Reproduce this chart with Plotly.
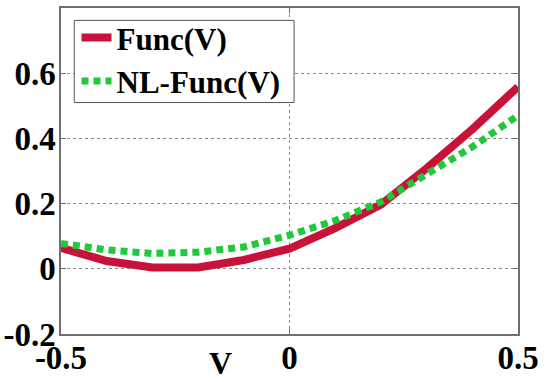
import plotly.graph_objects as go

v_values = [-0.5, -0.4, -0.3, -0.2, -0.1, 0.0, 0.1, 0.2, 0.3, 0.4, 0.5]
func_v = [0.064, 0.024, 0.004, 0.004, 0.027, 0.062, 0.125, 0.197, 0.308, 0.428, 0.558]
nl_func_v = [0.078, 0.058, 0.047, 0.051, 0.067, 0.103, 0.148, 0.205, 0.290, 0.374, 0.470]

x_ticks = [-0.5, 0, 0.5]
x_tick_labels = ["-0.5", "0", "0.5"]
y_ticks = [-0.2, 0, 0.2, 0.4, 0.6]
y_tick_labels = ["-0.2", "0", "0.2", "0.4", "0.6"]

font_family = "Liberation Serif, Times New Roman, serif"

fig = go.Figure()
fig.add_trace(go.Scatter(
    x=v_values, y=func_v, mode="lines", name="Func(V)",
    line=dict(color="#C8123A", width=8),
))
fig.add_trace(go.Scatter(
    x=v_values, y=nl_func_v, mode="lines", name="NL-Func(V)",
    line=dict(color="#20C83C", width=7, dash="7px,5px"),
))

axis_common = dict(
    showline=True, linecolor="#707070", linewidth=1.5, mirror="ticks",
    ticks="inside", ticklen=5, tickcolor="#707070",
    showgrid=True, gridcolor="#8a8a8a", gridwidth=1, griddash="dot",
    zeroline=False, automargin=False,
    tickfont=dict(family=font_family, size=33, color="black", weight="bold"),
)

fig.update_xaxes(range=[-0.5, 0.5], tickvals=x_ticks, ticktext=x_tick_labels,
                 ticklabelstandoff=-6, **axis_common)
fig.update_yaxes(range=[-0.2, 0.8], tickvals=y_ticks, ticktext=y_tick_labels,
                 ticklabelstandoff=-3, **axis_common)

fig.add_annotation(
    text="V", x=-0.152, xref="x", y=-0.088, yref="paper",
    xanchor="center", yanchor="middle", showarrow=False,
    font=dict(family=font_family, size=32, color="black", weight="bold"),
)

# legend frame
fig.add_shape(
    type="rect", xref="paper", yref="paper",
    x0=0.029, x1=0.51, y0=0.710, y1=0.962,
    line=dict(color="#555555", width=1), fillcolor="white", layer="above",
)

fig.update_layout(
    width=550, height=382,
    margin=dict(l=61, r=32, t=8, b=48, autoexpand=False),
    paper_bgcolor="white", plot_bgcolor="white",
    showlegend=True,
    legend=dict(
        x=0.034, y=0.991, xanchor="left", yanchor="top",
        bgcolor="rgba(0,0,0,0)", borderwidth=0,
        font=dict(family=font_family, size=31, color="black", weight="bold"),
        itemwidth=30, tracegroupgap=0,
    ),
)

fig.write_html("out.html", config={"displayModeBar": False},
               post_script="document.body.style.margin='0';")
